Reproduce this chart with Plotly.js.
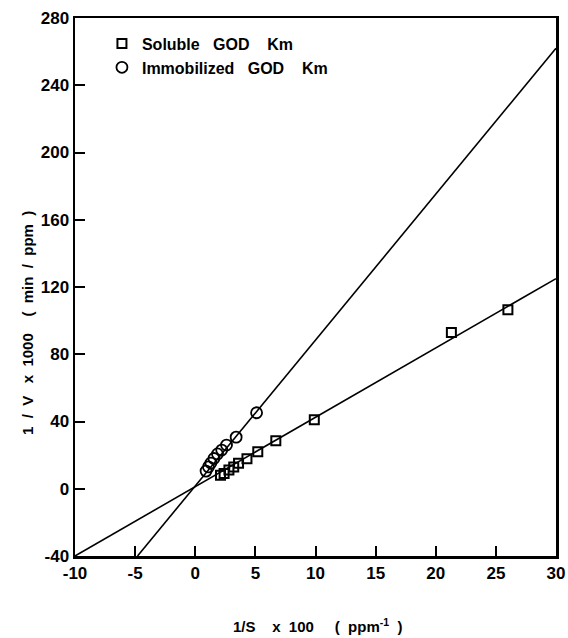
<!DOCTYPE html>
<html>
<head>
<meta charset="utf-8">
<script src="https://cdn.plot.ly/plotly-3.0.1.min.js"></script>
<style>html,body{margin:0;padding:0;background:#fff;}#chart{width:568px;height:638px;}</style>
</head>
<body>
<div id="chart"></div>
<script>
// Data
const solubleX = [2.1, 2.4, 2.8, 3.2, 3.6, 4.3, 5.2, 6.7, 9.9, 21.3, 26.0];
const solubleY = [8, 9, 11.2, 13, 15.2, 17.8, 22, 28.6, 41, 93, 106.5];
const immobX = [0.9, 1.1, 1.3, 1.55, 1.85, 2.2, 2.6, 3.4, 5.1];
const immobY = [10.5, 13, 15.3, 18, 20.7, 23, 26, 30.7, 45.2];
// Fitted straight lines (end points)
const solubleFitX = [-10, 30];
const solubleFitY = [-40, 125];
const immobFitX = [-4.8, 30];
const immobFitY = [-40, 262];
const xTicks = [-10, -5, 0, 5, 10, 15, 20, 25, 30];
const yTicks = [-40, 0, 40, 80, 120, 160, 200, 240, 280];
const seriesNames = ['Soluble&#160;&#160;&#160;GOD&#160;&#160;&#160;&#160;Km', 'Immobilized&#160;&#160;&#160;GOD&#160;&#160;&#160;&#160;Km'];
const xTitle = '1/S&#160;&#160;&#160;&#160;x&#160;&#160;100&#160;&#160;&#160;&#160;&#160;(&#160;&#160;ppm<sup>-1</sup>&#160;&#160;)';
const yTitle = '1&#160;&#160;/&#160;&#160;V&#160;&#160;&#160;x&#160;&#160;1000&#160;&#160;&#160;&#160;(&#160;&#160;min&#160;&#160;/&#160;&#160;ppm&#160;&#160;)';

const FONT = '"Liberation Sans", Arial, sans-serif';

const traces = [
  {x: solubleFitX, y: solubleFitY, mode: 'lines', line: {color: '#000', width: 1.6}, showlegend: false, hoverinfo: 'skip'},
  {x: immobFitX, y: immobFitY, mode: 'lines', line: {color: '#000', width: 1.6}, showlegend: false, hoverinfo: 'skip'},
  {x: solubleX, y: solubleY, mode: 'markers', name: seriesNames[0],
   marker: {symbol: 'square-open', size: 9, color: '#000', line: {width: 2, color: '#000'}}},
  {x: immobX, y: immobY, mode: 'markers', name: seriesNames[1],
   marker: {symbol: 'circle-open', size: 11, color: '#000', line: {width: 1.8, color: '#000'}}}
];

const layout = {
  width: 568, height: 638,
  margin: {l: 75, r: 12, t: 18, b: 82},
  paper_bgcolor: '#fff', plot_bgcolor: '#fff',
  font: {family: FONT, color: '#000', size: 15, weight: 'bold'},
  showlegend: true,
  legend: {x: 0.056, y: 0.984, xanchor: 'left', yanchor: 'top', bgcolor: 'rgba(0,0,0,0)',
           font: {family: FONT, size: 16, weight: 'bold'}, tracegroupgap: 0, itemwidth: 30},
  xaxis: {
    range: [-10, 30], tickvals: xTicks, ticktext: xTicks.map(String),
    showline: true, linewidth: 2.5, linecolor: '#000', mirror: true,
    ticks: 'inside', ticklen: 10, tickwidth: 2, tickcolor: '#000',
    showgrid: false, zeroline: false,
    tickfont: {family: FONT, size: 17, weight: 'bold'}
  },
  yaxis: {
    range: [-40, 280], tickvals: yTicks, ticktext: yTicks.map(String),
    showline: true, linewidth: 2.5, linecolor: '#000', mirror: true,
    ticks: 'inside', ticklen: 10, tickwidth: 2, tickcolor: '#000',
    showgrid: false, zeroline: false,
    tickfont: {family: FONT, size: 17, weight: 'bold'}
  },
  annotations: [
    {text: xTitle, xref: 'paper', yref: 'paper', x: 0.505, y: -0.13, xanchor: 'center', yanchor: 'middle',
     showarrow: false, font: {family: FONT, size: 15, weight: 'bold'}},
    {text: yTitle, xref: 'paper', yref: 'paper', x: -0.1, y: 0.433, xanchor: 'center', yanchor: 'middle',
     textangle: -90, showarrow: false, font: {family: FONT, size: 15, weight: 'bold'}}
  ]
};

Plotly.newPlot('chart', traces, layout, {displayModeBar: false, staticPlot: true});
</script>
</body>
</html>
